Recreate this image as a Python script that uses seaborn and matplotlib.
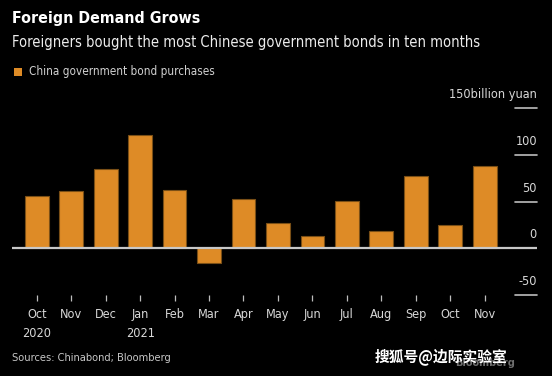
import matplotlib
matplotlib.use("Agg")
import matplotlib.pyplot as plt
import seaborn as sns
import pandas as pd
from matplotlib.patches import Rectangle

periods = ["2020-10", "2020-11", "2020-12", "2021-01", "2021-02", "2021-03", "2021-04",
           "2021-05", "2021-06", "2021-07", "2021-08", "2021-09", "2021-10", "2021-11"]
month_labels = ["Oct", "Nov", "Dec", "Jan", "Feb", "Mar", "Apr", "May", "Jun", "Jul",
                "Aug", "Sep", "Oct", "Nov"]
year_labels = ["2020", "", "", "2021", "", "", "", "", "", "", "", "", "", ""]
purchases = [55.7, 61.4, 85.3, 121.4, 62.5, -16.0, 52.5, 26.8, 13.5, 50.4, 18.2, 77.8, 24.6, 88.5]
ytick_values = [-50, 0, 50, 100, 150]
ytick_labels = ["-50", "0", "50", "100", "150billion yuan"]

BG = "#000000"
BAR = "#de8b26"
EDGE = "#7a4f16"

sns.set_theme(style="dark")
plt.rcParams["font.family"] = ["DejaVu Sans"]
plt.rcParams["font.stretch"] = "condensed"

fig = plt.figure(figsize=(5.52, 3.76), dpi=100, facecolor=BG)
W, H = 552, 376
ax = fig.add_axes([12 / W, (H - 295) / H, (537 - 12) / W, (295 - 108.3) / H])
ax.set_facecolor(BG)

df = pd.DataFrame({"period": periods, "value": purchases})
sns.barplot(data=df, x="period", y="value", order=periods, color=BAR, width=0.69,
            saturation=1, edgecolor=EDGE, linewidth=0.8, ax=ax, zorder=2)

ax.set_xlim(-0.72, 14.52)
ax.set_ylim(-50, 150)
for s in ax.spines.values():
    s.set_visible(False)
ax.grid(False)
ax.set_xlabel("")
ax.set_ylabel("")
ax.set_yticks([])

# zero line
ax.axhline(0, color="#c8c8c8", lw=1.6, zorder=3)

# right-side tick lines and labels
ytr = ax.get_yaxis_transform()
for v, lab in zip(ytick_values, ytick_labels):
    if v != 0:
        ax.plot([(515 - 12) / 525, 1.0], [v, v], transform=ytr, color="#bdbdbd",
                lw=1.2, clip_on=False)
    ax.annotate(lab, xy=(1.0, v), xycoords=ytr, xytext=(0, 5), textcoords="offset points",
                ha="right", va="bottom", color="#d8d8d8", fontsize=9.1)

# x ticks
ax.set_xticks(range(len(periods)))
ax.set_xticklabels([m + ("\n" + y if y else "") for m, y in zip(month_labels, year_labels)],
                   color="#d8d8d8", fontsize=9.1, linespacing=1.6)
ax.tick_params(axis="x", direction="out", length=4, width=0.9, color="#bdbdbd",
               pad=5.5, bottom=True)
for lbl in ax.get_xticklabels():
    lbl.set_verticalalignment("top")

# titles
fig.text(12 / W, 1 - 19 / H, "Foreign Demand Grows", color="white", fontsize=11.4,
         fontweight="bold", va="center", ha="left")
fig.text(12 / W, 1 - 42 / H, "Foreigners bought the most Chinese government bonds in ten months",
         color="#ececec", fontsize=10.55, va="center", ha="left")

# legend
fig.patches.append(Rectangle((14 / W, 1 - 76 / H), 8 / W, 8 / H, transform=fig.transFigure,
                             facecolor=BAR, edgecolor="none"))
fig.text(29 / W, 1 - 72 / H, "China government bond purchases", color="#d0d0d0",
         fontsize=8.4, va="center", ha="left")

# footer
fig.text(12 / W, 1 - 358 / H, "Sources: Chinabond; Bloomberg", color="#c8c8c8",
         fontsize=7.9, va="center", ha="left")
fig.text(515 / W, 1 - 363 / H, "Bloomberg", color="#6e6e6e", fontsize=7.8,
         fontweight="bold", va="center", ha="right")
fig.text(507 / W, 1 - 357 / H, "搜狐号@边际实验室", color="white", fontsize=10.6,
         fontweight="bold", va="center", ha="right", family=["Noto Sans CJK SC", "DejaVu Sans"])

fig.savefig("out.png", dpi=100, facecolor=BG)
